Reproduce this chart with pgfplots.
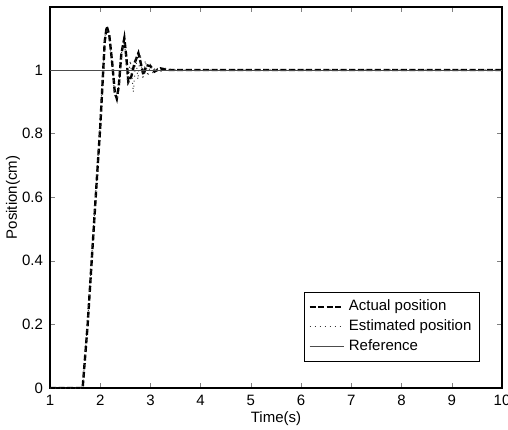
\documentclass[border=0pt]{standalone}
\usepackage{fontspec}
\setmainfont{Liberation Sans}
\usepackage{pgfplots}
\pgfplotsset{compat=1.18}

\begin{document}
\begin{tikzpicture}
\begin{axis}[
    scale only axis,
    width=226pt, height=190.5pt,
    xmin=1, xmax=10,
    ymin=0, ymax=1.198,
    xtick={1,2,...,10},
    ytick={0,0.2,0.4,0.6,0.8,1},
    tick align=inside,
    tick pos=both,
    major tick length=2.5pt,
    axis line style={line width=0.6pt},
    font=\fontsize{7.5}{9}\selectfont,
    tick label style={font=\fontsize{7.5}{9}\selectfont},
    /pgf/number format/assume math mode=true,
    xlabel={Time(s)},
    ylabel={Position(cm)},
    xlabel style={at={(rel axis cs:0.5,0)}, anchor=center, yshift=-15.5pt},
    ylabel style={at={(rel axis cs:0,0.5)}, anchor=center, rotate=0, yshift=18.5pt},
    legend cell align=left,
    legend style={at={(0.951,0.068)}, anchor=south east,
        font=\fontsize{7.5}{9}\selectfont, draw=black,
        row sep=-1pt, inner sep=2pt},
]
\addplot[black, line width=1.2pt, dash pattern=on 3pt off 1.3pt] coordinates {
    (1,0) (1.65,0) (1.75,0.2) (1.85,0.45) (1.95,0.70) (2.0,0.82) (2.05,0.97)
    (2.09,1.09) (2.13,1.137) (2.18,1.11) (2.24,1.02) (2.29,0.93) (2.33,0.91)
    (2.37,0.95) (2.42,1.05) (2.48,1.10) (2.52,1.04) (2.56,0.963) (2.62,0.98)
    (2.68,1.02) (2.76,1.053) (2.81,1.02) (2.86,0.984) (2.92,1.015) (3.0,1.012)
    (3.08,0.995) (3.2,1.005) (3.35,1.0) (10,1.0)
};
\addlegendentry{Actual position}
\addplot[black!80, line width=0.5pt, dotted] coordinates {
    (1,0) (1.65,0) (1.75,0.21) (1.85,0.46) (1.95,0.71) (2.0,0.83) (2.05,0.98)
    (2.09,1.10) (2.13,1.13) (2.18,1.10) (2.24,1.01) (2.29,0.92) (2.34,0.91)
    (2.38,0.96) (2.43,1.06) (2.48,1.09) (2.52,1.02) (2.55,0.95) (2.6,1.03)
    (2.66,0.93) (2.71,1.04) (2.75,0.97) (2.8,1.05) (2.85,0.97) (2.9,1.03)
    (2.95,0.98) (3.0,1.02) (3.05,0.99) (3.1,1.01) (3.2,0.995) (3.3,1.005)
    (3.5,1.0) (10,1.0)
};
\addlegendentry{Estimated position}
\addplot[black!70, line width=0.4pt] coordinates {(1,1) (10,1)};
\addlegendentry{Reference}
\end{axis}
\pgfresetboundingbox
\path[use as bounding box]
    ([xshift=-25pt,yshift=-20.5pt]current axis.south west)
    rectangle ([xshift=3pt,yshift=3.5pt]current axis.north east);
\end{tikzpicture}
\end{document}
